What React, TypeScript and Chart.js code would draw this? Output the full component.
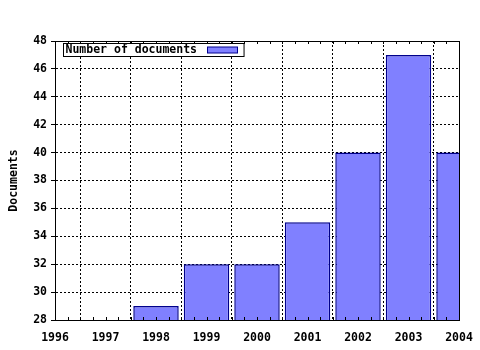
import React, { useEffect, useRef } from "react";
import { Chart, registerables } from "chart.js";

Chart.register(...registerables);

const seriesLabel = "Number of documents";
const years = [1998, 1999, 2000, 2001, 2002, 2003, 2004];
const documents = [29, 32, 32, 35, 40, 47, 40];
const xTickYears = [1996, 1997, 1998, 1999, 2000, 2001, 2002, 2003, 2004];
const yTickValues = [28, 30, 32, 34, 36, 38, 40, 42, 44, 46, 48];
const yAxisTitle = "Documents";
const minorStep = 0.25;

const FONT = "'DejaVu Sans Mono', monospace";

const framePlugin = {
  id: "frameAndLegend",
  afterDraw(chart: any) {
    const { ctx, chartArea } = chart;
    const { left, right, top, bottom } = chartArea;
    const xs = chart.scales.x;
    ctx.save();
    ctx.strokeStyle = "#000";
    ctx.lineWidth = 1;
    ctx.setLineDash([]);
    ctx.beginPath();
    ctx.moveTo(left, Math.round(top) + 0.5);
    ctx.lineTo(right + 0.5, Math.round(top) + 0.5);
    ctx.moveTo(Math.round(right) + 0.5, top);
    ctx.lineTo(Math.round(right) + 0.5, bottom);
    ctx.stroke();
    ctx.beginPath();
    for (let v = xTickYears[0]; v <= xTickYears[xTickYears.length - 1] + 1e-9; v += minorStep) {
      const px = Math.round(xs.getPixelForValue(v)) + 0.5;
      ctx.moveTo(px, bottom);
      ctx.lineTo(px, bottom - 3);
      ctx.moveTo(px, top);
      ctx.lineTo(px, top + 3);
    }
    ctx.stroke();

    const ds = chart.data.datasets[0];
    ctx.font = "bold 11.5px " + FONT;
    const tw = ctx.measureText(ds.label).width;
    const bx = left + 8.5;
    const by = top + 2.5;
    const swW = 30;
    const bw = 2 + tw + 10 + swW + 7;
    const bh = 13;
    ctx.fillStyle = "#fff";
    ctx.fillRect(bx, by, bw, bh);
    ctx.strokeStyle = "#000";
    ctx.strokeRect(bx, by, bw, bh);
    ctx.fillStyle = "#000";
    ctx.textBaseline = "middle";
    ctx.textAlign = "left";
    ctx.fillText(ds.label, bx + 2, by + bh / 2 + 0.5);
    const sx = Math.round(bx + 2 + tw + 10) + 0.5;
    ctx.fillStyle = ds.backgroundColor;
    ctx.fillRect(sx, by + 3.5, swW, 6);
    ctx.strokeStyle = ds.borderColor;
    ctx.strokeRect(sx, by + 3.5, swW, 6);
    ctx.restore();
  },
};

export default function App() {
  const ref = useRef<HTMLCanvasElement | null>(null);
  useEffect(() => {
    if (!ref.current) return;
    const chart = new Chart(ref.current, {
      type: "bar",
      data: {
        datasets: [
          {
            label: seriesLabel,
            data: years.map((y, i) => ({ x: y, y: documents[i] })),
            backgroundColor: "#8080ff",
            borderColor: "#00008c",
            borderWidth: 1.5,
            barPercentage: 0.9,
            categoryPercentage: 1,
          },
        ],
      },
      options: {
        animation: false,
        responsive: false,
        maintainAspectRatio: false,
        layout: { padding: { top: 41, right: 21, left: 0, bottom: 0 } },
        plugins: { legend: { display: false }, tooltip: { enabled: false } },
        scales: {
          x: {
            type: "linear",
            min: xTickYears[0],
            max: xTickYears[xTickYears.length - 1],
            offset: false,
            afterBuildTicks: (s: any) => {
              s.ticks = xTickYears.map((v) => ({ value: v }));
            },
            afterFit: (s: any) => {
              s.height = 30;
              s.paddingLeft = 0;
              s.paddingRight = 0;
            },
            grid: {
              color: "#000",
              lineWidth: 1,
              drawTicks: false,
            },
            border: { display: true, color: "#000", width: 1, dash: [2, 2] },
            ticks: {
              color: "#000",
              padding: 11,
              maxRotation: 0,
              autoSkip: false,
              font: { family: FONT, size: 11.5, weight: "bold" },
              callback: (v: any) => String(v),
            },
          },
          y: {
            type: "linear",
            min: yTickValues[0],
            max: yTickValues[yTickValues.length - 1],
            afterBuildTicks: (s: any) => {
              s.ticks = yTickValues.map((v) => ({ value: v }));
            },
            afterFit: (s: any) => {
              s.width = 55;
              s.paddingTop = 0;
              s.paddingBottom = 0;
            },
            grid: {
              color: "#000",
              lineWidth: 1,
              drawTicks: true,
              tickLength: 4,
              tickColor: "#000",
              tickBorderDash: [],
            },
            border: { display: true, color: "#000", width: 1, dash: [2, 2] },
            title: {
              display: true,
              text: yAxisTitle,
              color: "#000",
              font: { family: FONT, size: 11.5, weight: "bold" },
              padding: { top: 7, bottom: 0 },
            },
            ticks: {
              color: "#000",
              padding: 4,
              autoSkip: false,
              font: { family: FONT, size: 11.5, weight: "bold" },
            },
          },
        },
      },
      plugins: [framePlugin],
    });
    return () => chart.destroy();
  }, []);
  return (
    <div style={{ position: "fixed", left: 0, top: 0, width: 480, height: 350, background: "#fff" }}>
      <canvas ref={ref} width={480} height={350} style={{ width: 480, height: 350, display: "block" }} />
    </div>
  );
}
